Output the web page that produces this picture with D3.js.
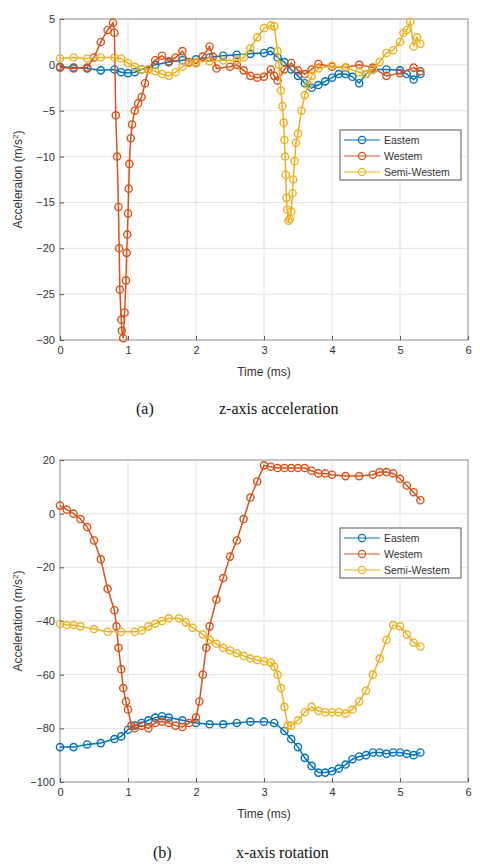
<!DOCTYPE html>
<html><head><meta charset="utf-8">
<script src="https://cdn.jsdelivr.net/npm/d3@7"></script>
<style>body{margin:0;background:#fff}</style></head>
<body><svg id="c" width="480" height="866"></svg>
<script>
const seriesNames=["Eastem","Westem","Semi-Westem"];
const colors=["#0072BD","#D95319","#EDB120"];
const xTicks=[0,1,2,3,4,5,6];
const yTicksA=[5,0,-5,-10,-15,-20,-25,-30];
const yTicksB=[20,0,-20,-40,-60,-80,-100];
// chart (a) z-axis acceleration: [time, value]
const aEastern=[[0,-0.2],[0.2,-0.3],[0.4,-0.4],[0.6,-0.6],[0.8,-0.5],[0.9,-0.8],[1.0,-0.9],[1.1,-0.8],[1.2,-0.5],[1.4,0],[1.6,0.3],[1.8,0.5],[2.0,0.6],[2.2,0.8],[2.4,1.0],[2.6,1.1],[2.8,1.2],[3.0,1.3],[3.1,1.5],[3.2,0.8],[3.3,0.3],[3.4,-0.5],[3.5,-1.2],[3.6,-2.0],[3.7,-2.5],[3.8,-2.2],[3.9,-1.8],[4.0,-1.4],[4.1,-1.0],[4.2,-1.0],[4.3,-1.3],[4.4,-2.0],[4.5,-1.0],[4.6,-0.5],[4.8,-0.5],[5.0,-0.6],[5.1,-1.0],[5.2,-1.6],[5.3,-1.0]];
const aWestern=[[0,-0.3],[0.2,-0.4],[0.4,-0.3],[0.5,0.8],[0.6,2.5],[0.7,3.8],[0.78,4.6],[0.8,3.5],[0.82,-5.5],[0.84,-10],[0.86,-15.5],[0.87,-20],[0.88,-24.5],[0.9,-27.8],[0.91,-29],[0.93,-29.8],[0.95,-27],[0.97,-23.5],[0.98,-20.5],[0.99,-18.5],[1.0,-16.2],[1.01,-13.5],[1.02,-10.8],[1.04,-8],[1.06,-6.5],[1.1,-5],[1.15,-4.2],[1.2,-3.5],[1.25,-2],[1.3,-0.5],[1.4,0.5],[1.5,1.0],[1.6,0.4],[1.7,0.8],[1.8,1.5],[1.9,0.3],[2.0,0.2],[2.1,0.9],[2.2,2.0],[2.25,0.9],[2.3,-0.4],[2.5,-0.2],[2.6,0],[2.7,-0.6],[2.8,-1.2],[2.9,-1.4],[3.0,-1.3],[3.1,-0.5],[3.15,-1.2],[3.2,-1.7],[3.3,-0.5],[3.4,0.2],[3.5,-0.6],[3.6,-1.0],[3.7,-0.5],[3.8,0.1],[4.0,-0.2],[4.2,-0.3],[4.4,0],[4.6,-0.3],[4.8,-1.2],[5.0,-0.9],[5.2,-0.3],[5.3,-0.7]];
const aSemi=[[0,0.7],[0.2,0.8],[0.4,0.7],[0.6,0.8],[0.8,0.8],[0.9,0.7],[1.0,0.2],[1.1,-0.2],[1.2,-0.5],[1.3,-0.5],[1.4,-0.7],[1.5,-1.0],[1.6,-1.2],[1.7,-0.8],[1.8,-0.2],[1.9,0.2],[2.0,0.3],[2.2,0.4],[2.4,0.5],[2.6,0.5],[2.7,0.8],[2.8,1.8],[2.9,3.0],[3.0,4.0],[3.1,4.3],[3.15,4.2],[3.2,1.5],[3.22,0],[3.25,-2.8],[3.27,-4.5],[3.29,-6.3],[3.3,-8.2],[3.31,-10],[3.32,-12],[3.33,-14.5],[3.34,-15.8],[3.36,-17],[3.38,-16.8],[3.4,-16],[3.42,-14],[3.43,-12.5],[3.45,-10.5],[3.47,-8.5],[3.5,-7.5],[3.55,-5],[3.6,-3.3],[3.65,-2.2],[3.7,-1.2],[3.8,-0.4],[4.0,-0.1],[4.2,-0.3],[4.4,-0.8],[4.5,-1.0],[4.6,-0.5],[4.7,0.3],[4.8,1.3],[4.9,1.6],[5.0,2.5],[5.05,3.5],[5.1,3.8],[5.15,4.7],[5.2,2.0],[5.25,3.0],[5.3,2.3]];
// chart (b) x-axis rotation
const bEastern=[[0,-87],[0.2,-87],[0.4,-86],[0.6,-85.5],[0.8,-84],[0.9,-83],[1.0,-80.5],[1.1,-79],[1.2,-78],[1.3,-77],[1.4,-76],[1.5,-75.5],[1.6,-76],[1.8,-77],[2.0,-78],[2.2,-78.5],[2.4,-78.5],[2.6,-78],[2.8,-77.5],[3.0,-77.5],[3.15,-78],[3.3,-81],[3.4,-84],[3.5,-87],[3.6,-91],[3.7,-94],[3.8,-96.5],[3.9,-96.5],[4.0,-96],[4.1,-95],[4.2,-93.5],[4.3,-91.5],[4.4,-90.5],[4.5,-90],[4.6,-89],[4.7,-89],[4.8,-89.5],[4.9,-89],[5.0,-89],[5.1,-89.5],[5.2,-90],[5.3,-89]];
const bWestern=[[0,3],[0.1,1.5],[0.2,0],[0.3,-2],[0.4,-5],[0.5,-10],[0.6,-17],[0.7,-28],[0.8,-36],[0.83,-42],[0.86,-50],[0.9,-58],[0.93,-65],[0.97,-70],[1.0,-73],[1.05,-79],[1.1,-80],[1.2,-79],[1.3,-80],[1.4,-78],[1.5,-77.5],[1.6,-78],[1.7,-79],[1.8,-79.5],[1.9,-78],[2.0,-76],[2.05,-70],[2.1,-60],[2.15,-50],[2.2,-42],[2.3,-32],[2.4,-24],[2.5,-16],[2.6,-10],[2.7,-2],[2.8,6],[2.9,12],[3.0,18],[3.1,17.5],[3.2,17],[3.3,17],[3.4,17],[3.5,17],[3.6,17],[3.7,16],[3.8,15],[3.9,15],[4.0,14.5],[4.2,14],[4.4,14],[4.6,14.5],[4.7,15.5],[4.8,15.5],[4.9,15],[5.0,13],[5.1,10.5],[5.2,8],[5.3,5]];
const bSemi=[[0,-41],[0.1,-41.5],[0.2,-41.5],[0.3,-42],[0.5,-43],[0.7,-44],[0.9,-44],[1.1,-44],[1.2,-43.5],[1.3,-42],[1.4,-41],[1.5,-40],[1.6,-39],[1.75,-39],[1.85,-40.5],[1.95,-42.5],[2.1,-45],[2.2,-47],[2.3,-48.5],[2.4,-50],[2.5,-51],[2.6,-52],[2.7,-53],[2.8,-54],[2.9,-54.5],[3.0,-55],[3.1,-55.5],[3.15,-57],[3.2,-60],[3.25,-65],[3.3,-72],[3.35,-79],[3.4,-79],[3.5,-77],[3.6,-74],[3.7,-72],[3.8,-73.5],[3.9,-74],[4.0,-74],[4.1,-74],[4.2,-74.5],[4.3,-73],[4.4,-70],[4.5,-66],[4.6,-60],[4.7,-54],[4.8,-47],[4.9,-41.5],[5.0,-42],[5.1,-45],[5.2,-48],[5.3,-49.5]];

const svg=d3.select("#c");
function chart(cfg){
  const x=d3.scaleLinear().domain([0,6]).range([cfg.x0,cfg.x1]);
  const y=d3.scaleLinear().domain(cfg.yd).range([cfg.y1,cfg.y0]);
  const g=svg.append("g");
  g.selectAll(".gx").data(xTicks).enter().append("line").attr("x1",d=>x(d)).attr("x2",d=>x(d)).attr("y1",cfg.y0).attr("y2",cfg.y1).attr("stroke","#e3e3e3");
  g.selectAll(".gy").data(cfg.yt).enter().append("line").attr("y1",d=>y(d)).attr("y2",d=>y(d)).attr("x1",cfg.x0).attr("x2",cfg.x1).attr("stroke","#e3e3e3");
  g.append("rect").attr("x",cfg.x0).attr("y",cfg.y0).attr("width",cfg.x1-cfg.x0).attr("height",cfg.y1-cfg.y0).attr("fill","none").attr("stroke","#9a9a9a");
  const fmt=d3.format("d");
  const ax=g.append("g").attr("transform",`translate(0,${cfg.y1})`).call(d3.axisBottom(x).tickValues(xTicks).tickFormat(fmt).tickSize(-4).tickPadding(6));
  const ay=g.append("g").attr("transform",`translate(${cfg.x0},0)`).call(d3.axisLeft(y).tickValues(cfg.yt).tickFormat(fmt).tickSize(-4).tickPadding(5));
  [ax,ay].forEach(a=>{a.select(".domain").remove();a.selectAll("line").attr("stroke","#555");a.selectAll("text").attr("font-family","Arial, Liberation Sans").attr("font-size",11).attr("fill","#333");});
  g.append("text").attr("x",(cfg.x0+cfg.x1)/2).attr("y",cfg.y1+36).attr("text-anchor","middle").attr("font-family","Liberation Sans").attr("font-size",12).attr("fill","#333").text("Time (ms)");
  const yl=g.append("text").attr("transform",`translate(${cfg.x0-38},${(cfg.y0+cfg.y1)/2}) rotate(-90)`).attr("text-anchor","middle").attr("font-family","Liberation Sans").attr("font-size",12).attr("fill","#333");
  yl.append("tspan").text(cfg.ylab+" (m/s");yl.append("tspan").attr("font-size",8).attr("dy",-4).text("2");yl.append("tspan").attr("dy",4).text(")");
  const line=d3.line().x(d=>x(d[0])).y(d=>y(d[1]));
  cfg.data.forEach((s,i)=>{
    g.append("path").attr("d",line(s)).attr("fill","none").attr("stroke",colors[i]).attr("stroke-width",1.5);
    g.selectAll(null).data(s).enter().append("circle").attr("cx",d=>x(d[0])).attr("cy",d=>y(d[1])).attr("r",3.6).attr("fill","none").attr("stroke",colors[i]).attr("stroke-width",1.4);
  });
  const L=cfg.leg;
  g.append("rect").attr("x",L[0]).attr("y",L[1]).attr("width",121).attr("height",50).attr("fill","#fff").attr("stroke","#555");
  seriesNames.forEach((n,i)=>{
    const yy=L[1]+10+i*16;
    g.append("line").attr("x1",L[0]+4).attr("x2",L[0]+40).attr("y1",yy).attr("y2",yy).attr("stroke",colors[i]);
    g.append("circle").attr("cx",L[0]+22).attr("cy",yy).attr("r",3.6).attr("fill","none").attr("stroke",colors[i]).attr("stroke-width",1.2);
    g.append("text").attr("x",L[0]+44).attr("y",yy+4).attr("font-family","Liberation Sans").attr("font-size",10.5).attr("fill","#333").text(n);
  });
  const c=g.append("text").attr("y",cfg.capY).attr("font-family","Liberation Serif").attr("font-size",16).attr("fill","#111");
  c.append("tspan").attr("x",cfg.capX[0]).text(cfg.cap[0]);
  c.append("tspan").attr("x",cfg.capX[1]).text(cfg.cap[1]);
}
chart({x0:60,x1:468,y0:19,y1:340,yd:[-30,5],yt:yTicksA,ylab:"Acceleraion",data:[aEastern,aWestern,aSemi],leg:[340,130],capY:414,capX:[136,219],cap:["(a)","z-axis acceleration"]});
chart({x0:60,x1:468,y0:460,y1:782,yd:[-100,20],yt:yTicksB,ylab:"Acceleration",data:[bEastern,bWestern,bSemi],leg:[340,528],capY:858,capX:[153,236],cap:["(b)","x-axis rotation"]});
</script></body></html>
